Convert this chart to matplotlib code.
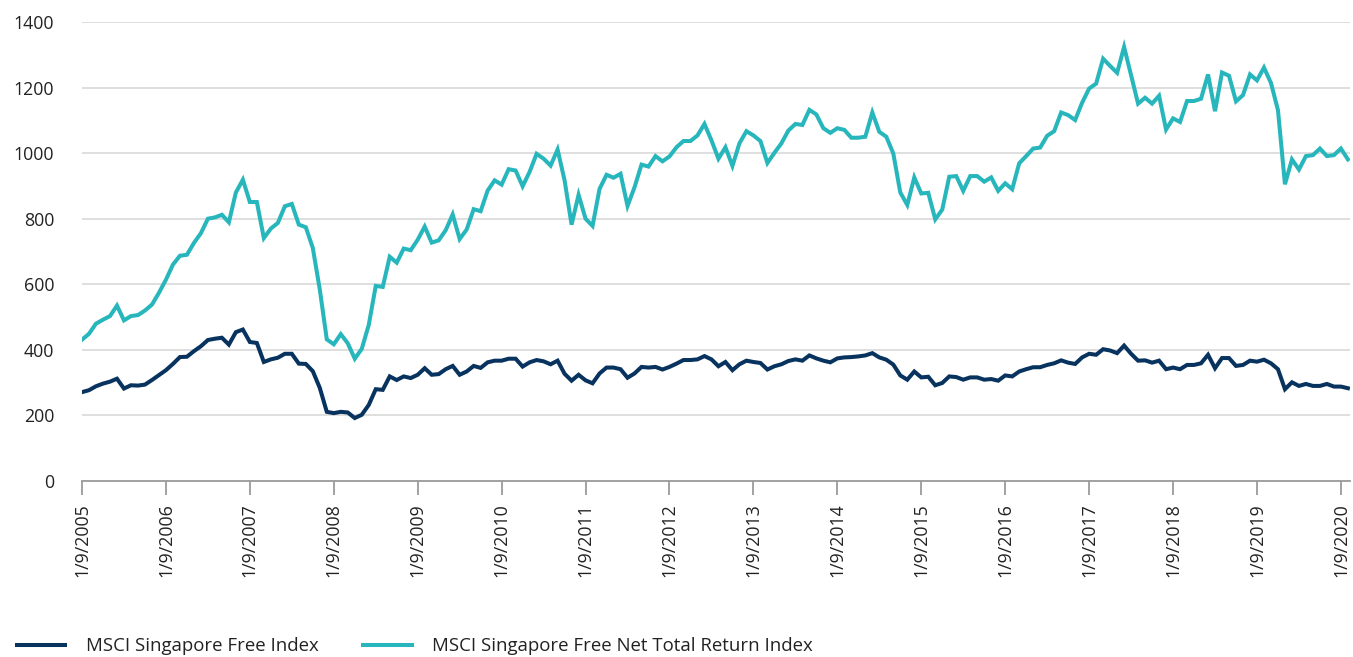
import numpy as np
import matplotlib
matplotlib.use('Agg')
import matplotlib.pyplot as plt

# Monthly index levels, Sep 2005 -> Oct 2020
free_index = [
    271, 277, 289, 297, 303, 312, 282, 292, 291, 294, 308, 323,
    338, 357, 378, 379, 396, 411, 430, 434, 437, 416, 454, 462,
    424, 421, 363, 371, 376, 388, 388, 358, 357, 335, 284, 211,
    207, 211, 209, 192, 202, 232, 280, 278, 319, 308, 319, 314,
    324, 344, 324, 326, 341, 351, 324, 334, 351, 345, 362, 367,
    367, 373, 373, 349, 362, 369, 365, 356, 367, 327, 306, 324,
    307, 298, 328, 346, 346, 341, 315, 328, 348, 346, 348, 340,
    348, 358, 369, 369, 371, 381, 371, 350, 363, 338, 356, 367,
    363, 360, 340, 350, 356, 366, 371, 367, 383, 374, 367, 362,
    374, 377, 378, 380, 383, 390, 377, 370, 355, 322, 309, 334,
    316, 318, 292, 299, 319, 317, 309, 316, 316, 309, 311, 306,
    322, 319, 334, 341, 347, 347, 354, 359, 368, 361, 357, 377,
    388, 385, 402, 398, 390, 413, 388, 367, 368, 361, 367, 341,
    346, 341, 354, 354, 359, 385, 344, 375, 375, 351, 354, 367,
    364, 370, 359, 341, 280, 301, 290, 296, 290, 290, 296, 288,
    288, 283,
]

net_tr_index = [
    431, 449, 480, 492, 503, 535, 490, 503, 506, 520, 538, 574,
    614, 660, 687, 690, 726, 756, 800, 804, 812, 789, 880, 919,
    851, 851, 741, 770, 787, 838, 845, 782, 774, 711, 584, 432,
    417, 448, 420, 373, 403, 476, 595, 592, 684, 666, 709, 704,
    736, 776, 727, 734, 765, 813, 738, 767, 829, 823, 886, 917,
    904, 951, 947, 899, 943, 998, 983, 962, 1011, 917, 782, 873,
    800, 778, 891, 934, 925, 937, 839, 896, 965, 959, 991, 975,
    990, 1018, 1037, 1037, 1054, 1089, 1039, 983, 1018, 961, 1030, 1067,
    1054, 1037, 970, 1001, 1030, 1069, 1089, 1086, 1132, 1118, 1076, 1062,
    1076, 1071, 1047, 1047, 1050, 1124, 1065, 1050, 999, 880, 842, 926,
    877, 879, 798, 828, 928, 930, 885, 930, 930, 913, 926, 885,
    908, 890, 969, 991, 1014, 1017, 1053, 1067, 1124, 1116, 1101, 1154,
    1197, 1212, 1288, 1266, 1245, 1324, 1238, 1151, 1169, 1151, 1175, 1072,
    1106, 1095, 1159, 1159, 1166, 1240, 1128, 1246, 1236, 1158, 1177, 1240,
    1222, 1261, 1214, 1131, 905, 981, 950, 991, 994, 1014, 991, 994,
    1014, 981,
]

tick_labels = ['1/9/%d' % y for y in range(2005, 2021)]
series_names = ['MSCI Singapore Free Index',
                'MSCI Singapore Free Net Total Return Index']

NAVY = '#08335f'
TEAL = '#27b6bc'

plt.rcParams['font.family'] = ['Open Sans', 'DejaVu Sans']

fig = plt.figure(figsize=(13.53, 6.57), dpi=100)
ax = fig.add_axes([82 / 1353, 176 / 657, 1268 / 1353, 459 / 657])

x = np.arange(len(free_index))
ax.plot(x, free_index, color=NAVY, lw=2.9, label=series_names[0],
        solid_joinstyle='miter', zorder=3)
ax.plot(x, net_tr_index, color=TEAL, lw=2.9, label=series_names[1],
        solid_joinstyle='miter', zorder=3)

ax.set_xlim(0, 181.3)
ax.set_ylim(0, 1400)
ax.set_yticks(np.arange(0, 1401, 200))
ax.set_xticks(np.arange(0, len(tick_labels) * 12, 12))
ax.set_xticklabels(tick_labels, rotation=90)

ax.grid(axis='y', color='#d6d6d6', lw=1.1)
ax.set_axisbelow(True)
for side in ['top', 'right', 'left']:
    ax.spines[side].set_visible(False)
ax.spines['bottom'].set_color('#9b9b9b')
ax.spines['bottom'].set_linewidth(1.3)
ax.tick_params(axis='x', colors='#9b9b9b', length=10, width=1.3, pad=6,
               labelcolor='#222222', labelsize=12.8)
ax.tick_params(axis='y', length=0, pad=20, labelcolor='#222222', labelsize=12.8)

fig.legend(loc='lower left', bbox_to_anchor=(0.007, -0.009), ncol=2,
           frameon=False, fontsize=13.4, handlelength=2.6, handletextpad=1.1,
           columnspacing=2.4, borderaxespad=0, labelcolor='#222222')

fig.savefig('out.png', dpi=100)
